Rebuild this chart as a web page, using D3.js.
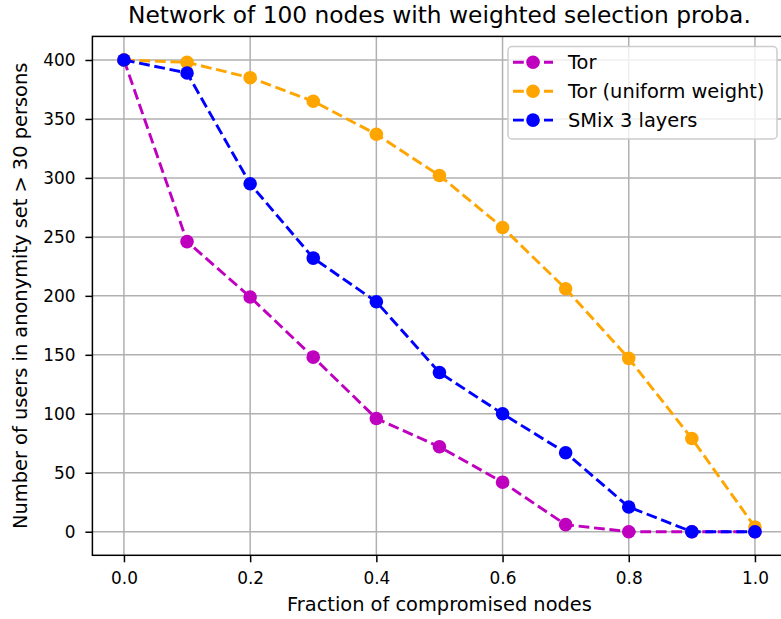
<!DOCTYPE html>
<html>
<head>
<meta charset="utf-8">
<script src="https://cdn.jsdelivr.net/npm/d3@7"></script>
<style>
  body { margin: 0; background: #fff; }
  svg text { font-family: "DejaVu Sans", sans-serif; fill: #000; }
</style>
</head>
<body>
<div id="chart"></div>
<script>
var fractions = [0.0, 0.1, 0.2, 0.3, 0.4, 0.5, 0.6, 0.7, 0.8, 0.9, 1.0];
var torValues = [400, 246, 199, 148, 96, 72, 42, 6, 0, 0, 0];
var torUniformValues = [400, 398, 385, 365, 337, 302, 258, 206, 147, 79, 4];
var smixValues = [400, 389, 295, 232, 195, 135, 100, 67, 21, 0, 0];
var seriesNames = ["Tor", "Tor (uniform weight)", "SMix 3 layers"];
var seriesColors = ["#bf00bf", "#ffa500", "#0000ff"];
var xTicks = [0.0, 0.2, 0.4, 0.6, 0.8, 1.0];
var yTicks = [0, 50, 100, 150, 200, 250, 300, 350, 400];

var width = 781,
    height = 619;
// plot area (window.top is reserved, so use other names)
var pLeft = 92.4, pRight = 786.5, pTop = 36.4, pBottom = 555.3;
var lineW = 2.9, dash = "10.8,4.7", markerR = 6.8;

var svg = d3.select("#chart").append("svg")
    .attr("width", width)
    .attr("height", height);

var x = d3.scaleLinear().domain([-0.05, 1.05]).range([pLeft, pRight]);
var y = d3.scaleLinear().domain([-20, 420]).range([pBottom, pTop]);

// grid
svg.append("g").selectAll("line").data(xTicks).enter().append("line")
    .attr("x1", function(d) { return x(d); }).attr("x2", function(d) { return x(d); })
    .attr("y1", pTop).attr("y2", pBottom)
    .attr("stroke", "#b0b0b0").attr("stroke-width", 1.5);
svg.append("g").selectAll("line").data(yTicks).enter().append("line")
    .attr("y1", function(d) { return y(d); }).attr("y2", function(d) { return y(d); })
    .attr("x1", pLeft).attr("x2", pRight)
    .attr("stroke", "#b0b0b0").attr("stroke-width", 1.5);

// axes
var xAxis = svg.append("g")
    .attr("transform", "translate(0," + pBottom + ")")
    .call(d3.axisBottom(x).tickValues(xTicks).tickFormat(d3.format(".1f")).tickSize(7).tickPadding(9.5));
var yAxis = svg.append("g")
    .attr("transform", "translate(" + pLeft + ",0)")
    .call(d3.axisLeft(y).tickValues(yTicks).tickSize(7).tickPadding(10));
[xAxis, yAxis].forEach(function(a) {
  a.attr("font-size", null).attr("font-family", null);
  a.select(".domain").remove();
  a.selectAll("line").attr("stroke", "#000").attr("stroke-width", 1.5);
  a.selectAll("text").style("font-size", "16.9px").style("fill", "#000");
});

// lines + markers
var data = [torValues, torUniformValues, smixValues];
var line = d3.line()
    .x(function(d, i) { return x(fractions[i]); })
    .y(function(d) { return y(d); });

data.forEach(function(vals, k) {
  var g = svg.append("g");
  g.append("path")
      .attr("d", line(vals))
      .attr("fill", "none")
      .attr("stroke", seriesColors[k])
      .attr("stroke-width", lineW)
      .attr("stroke-dasharray", dash);
  g.selectAll("circle").data(vals).enter().append("circle")
      .attr("cx", function(d, i) { return x(fractions[i]); })
      .attr("cy", function(d) { return y(d); })
      .attr("r", markerR)
      .attr("fill", seriesColors[k]);
});

// spines
svg.append("rect")
    .attr("x", pLeft).attr("y", pTop)
    .attr("width", pRight - pLeft).attr("height", pBottom - pTop)
    .attr("fill", "none").attr("stroke", "#000").attr("stroke-width", 1.5);

// title and labels
svg.append("text")
    .attr("x", (pLeft + pRight) / 2).attr("y", 23)
    .attr("text-anchor", "middle")
    .style("font-size", "23.3px")
    .text("Network of 100 nodes with weighted selection proba.");
svg.append("text")
    .attr("x", (pLeft + pRight) / 2).attr("y", 611)
    .attr("text-anchor", "middle")
    .style("font-size", "19.4px")
    .text("Fraction of compromised nodes");
svg.append("text")
    .attr("transform", "translate(27," + (pTop + pBottom) / 2 + ") rotate(-90)")
    .attr("text-anchor", "middle")
    .style("font-size", "19.4px")
    .text("Number of users in anonymity set > 30 persons");

// legend
var legend = svg.append("g");
legend.append("rect")
    .attr("x", 508).attr("y", 46.5)
    .attr("width", 269).attr("height", 92.5)
    .attr("rx", 4)
    .attr("fill", "rgba(255,255,255,0.8)")
    .attr("stroke", "#cccccc").attr("stroke-width", 1.5);
seriesNames.forEach(function(name, k) {
  var ly = 62.3 + k * 28.9;
  legend.append("line")
      .attr("x1", 513).attr("x2", 553)
      .attr("y1", ly).attr("y2", ly)
      .attr("stroke", seriesColors[k])
      .attr("stroke-width", lineW)
      .attr("stroke-dasharray", dash);
  legend.append("circle")
      .attr("cx", 533).attr("cy", ly).attr("r", markerR)
      .attr("fill", seriesColors[k]);
  legend.append("text")
      .attr("x", 568).attr("y", ly + 7)
      .style("font-size", "19.4px")
      .text(name);
});
</script>
</body>
</html>
